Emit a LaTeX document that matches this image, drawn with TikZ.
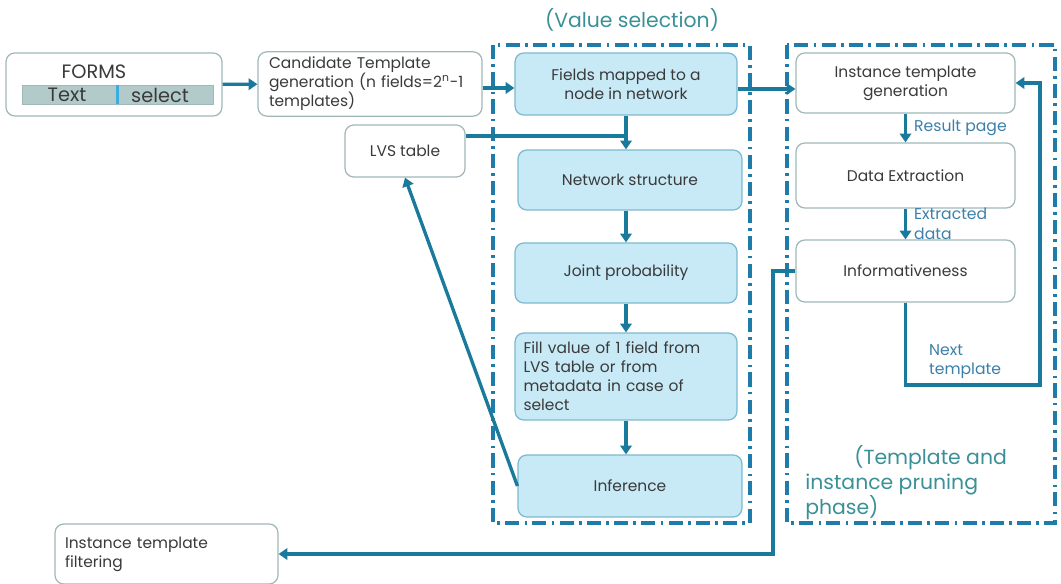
\documentclass[tikz,border=0pt]{standalone}
\usepackage{fontspec}
\setmainfont{Poppins}
\usetikzlibrary{arrows.meta}

\definecolor{flowteal}{HTML}{1A7A9C}
\definecolor{phaseblue}{HTML}{1F7BAA}
\definecolor{cellblue}{HTML}{C8E9F6}
\definecolor{cellrim}{HTML}{7DB9CF}
\definecolor{rimgray}{HTML}{A0B8B8}
\definecolor{inkgray}{HTML}{3A3A3A}
\definecolor{notecol}{HTML}{3B7FAA}
\definecolor{titleteal}{HTML}{3A9096}
\definecolor{barfill}{HTML}{B3CACA}
\definecolor{barline}{HTML}{3AAEDD}

\tikzset{
  stage/.style={draw=rimgray, line width=0.7pt, rounded corners=5pt, fill=white,
    text=inkgray, font=\fontsize{8.8}{10.8}\selectfont, align=center, inner sep=3pt},
  vstage/.style={stage, draw=cellrim, fill=cellblue},
  flow/.style={draw=flowteal, line width=1.9pt, -{Triangle[length=5pt,width=6.5pt]}},
  phasebox/.style={draw=phaseblue, line width=1.8pt,
    dash pattern=on 8pt off 3pt on 1.5pt off 3pt},
  note/.style={text=notecol, font=\fontsize{8.9}{11.2}\selectfont, inner sep=1pt},
  title/.style={text=titleteal, font=\fontsize{11.6}{14.2}\selectfont},
  formfont/.style={text=inkgray, font=\fontsize{11}{13}\selectfont, inner sep=0pt},
}

\begin{document}
\begin{tikzpicture}[x=0.02cm, y=-0.02cm]
    \useasboundingbox (0,0) rectangle (1061,584);

    % phase frames
    \draw[phasebox] (493,45) rectangle (750,523);
    \draw[phasebox] (787,45) rectangle (1055,523);
    \node[title] (vsel) at (632,20) {(Value selection)};
    \node[title, align=left, anchor=north west, inner sep=0pt] (prune) at (805,445)
        {\hspace*{2.4em}(Template and\\instance pruning\\phase)};

    % forms
    \node[stage, minimum width=4.32cm, minimum height=1.26cm] (forms) at (114,84.5) {};
    \node[formfont] (formstitle) at (94,72) {FORMS};
    \node[draw=rimgray, fill=barfill, minimum width=3.82cm, minimum height=0.38cm,
        inner sep=0pt] (formsbar) at (117.5,94.5) {};
    \node[formfont] (fieldtext) at (67,95) {Text};
    \node[formfont] (fieldsel) at (160,95) {select};
    \draw[barline, line width=1.2pt] (formsbar.north) -- (formsbar.south);

    % left column
    \node[stage, align=left, minimum width=4.48cm, minimum height=1.24cm,
        text width=4.04cm, inner xsep=0.22cm] (cand) at (370,84)
        {Candidate Template\\generation (n fields=2\textsuperscript{n}-1\\templates)};
    \node[stage, minimum width=2.4cm, minimum height=1.04cm] (lvs) at (405,151) {LVS table};
    \node[stage, align=left, minimum width=4.46cm, minimum height=1.2cm,
        text width=4.06cm, inner xsep=0.2cm] (filt) at (166.5,554)
        {Instance template\\filtering};

    % value selection
    \node[vstage, minimum width=4.44cm, minimum height=1.24cm] (fields) at (626,84)
        {Fields mapped to a\\node in network};
    \node[vstage, minimum width=4.48cm, minimum height=1.2cm] (netw) at (630,180)
        {Network structure};
    \node[vstage, minimum width=4.44cm, minimum height=1.2cm] (joint) at (626,273)
        {Joint probability};
    \node[vstage, align=left, minimum width=4.44cm, minimum height=1.74cm,
        text width=4.1cm, inner xsep=0.17cm] (fillv) at (626,376.5)
        {Fill value of 1 field from\\LVS table or from\\metadata in case of\\select};
    \node[vstage, minimum width=4.48cm, minimum height=1.24cm] (infer) at (630,486)
        {Inference};

    % pruning phase
    \node[stage, minimum width=4.38cm, minimum height=1.2cm] (itgen) at (905.5,83)
        {Instance template\\generation};
    \node[stage, minimum width=4.38cm, minimum height=1.3cm] (dext) at (905.5,175.5)
        {Data Extraction};
    \node[stage, minimum width=4.38cm, minimum height=1.24cm] (inform) at (905.5,271)
        {Informativeness};

    \coordinate (lvsjoin) at (626,136);
    \coordinate (loopbot) at (1040,385);
    \coordinate (dropcol) at (773,554);

    % connectors
    \draw[flow] (forms) -- (cand);
    \draw[flow] (cand.east |- 0,88) -- (fields.west |- 0,88);
    \draw[flow] (fields.south) -- (fields.south |- netw.north);
    \draw[flow, -] (lvs.east |- lvsjoin) -- (lvsjoin);
    \draw[flow] (netw.south -| joint.south) -- (joint.north);
    \draw[flow] (joint) -- (fillv);
    \draw[flow] (fillv.south) -- (fillv.south |- infer.north);
    \draw[flow] (infer.west) -- (lvs.south);
    \draw[flow] (fields.east |- 0,89) -- (itgen.west |- 0,89);
    \draw[flow] (itgen.south) -- (dext.north)
        node[note, midway, right, xshift=3pt] (respage) {Result page};
    \draw[flow] (dext.south) -- (inform.north)
        node[note, midway, right, align=left, xshift=3pt] (extdata) {Extracted\\data};
    \draw[flow] (inform.south) |- (loopbot) |- (itgen.east);
    \node[note, align=left, anchor=north west] (nexttpl) at (927,342) {Next\\template};
    \draw[flow] (inform.west) -| (dropcol) -- (filt.east);
\end{tikzpicture}
\end{document}
